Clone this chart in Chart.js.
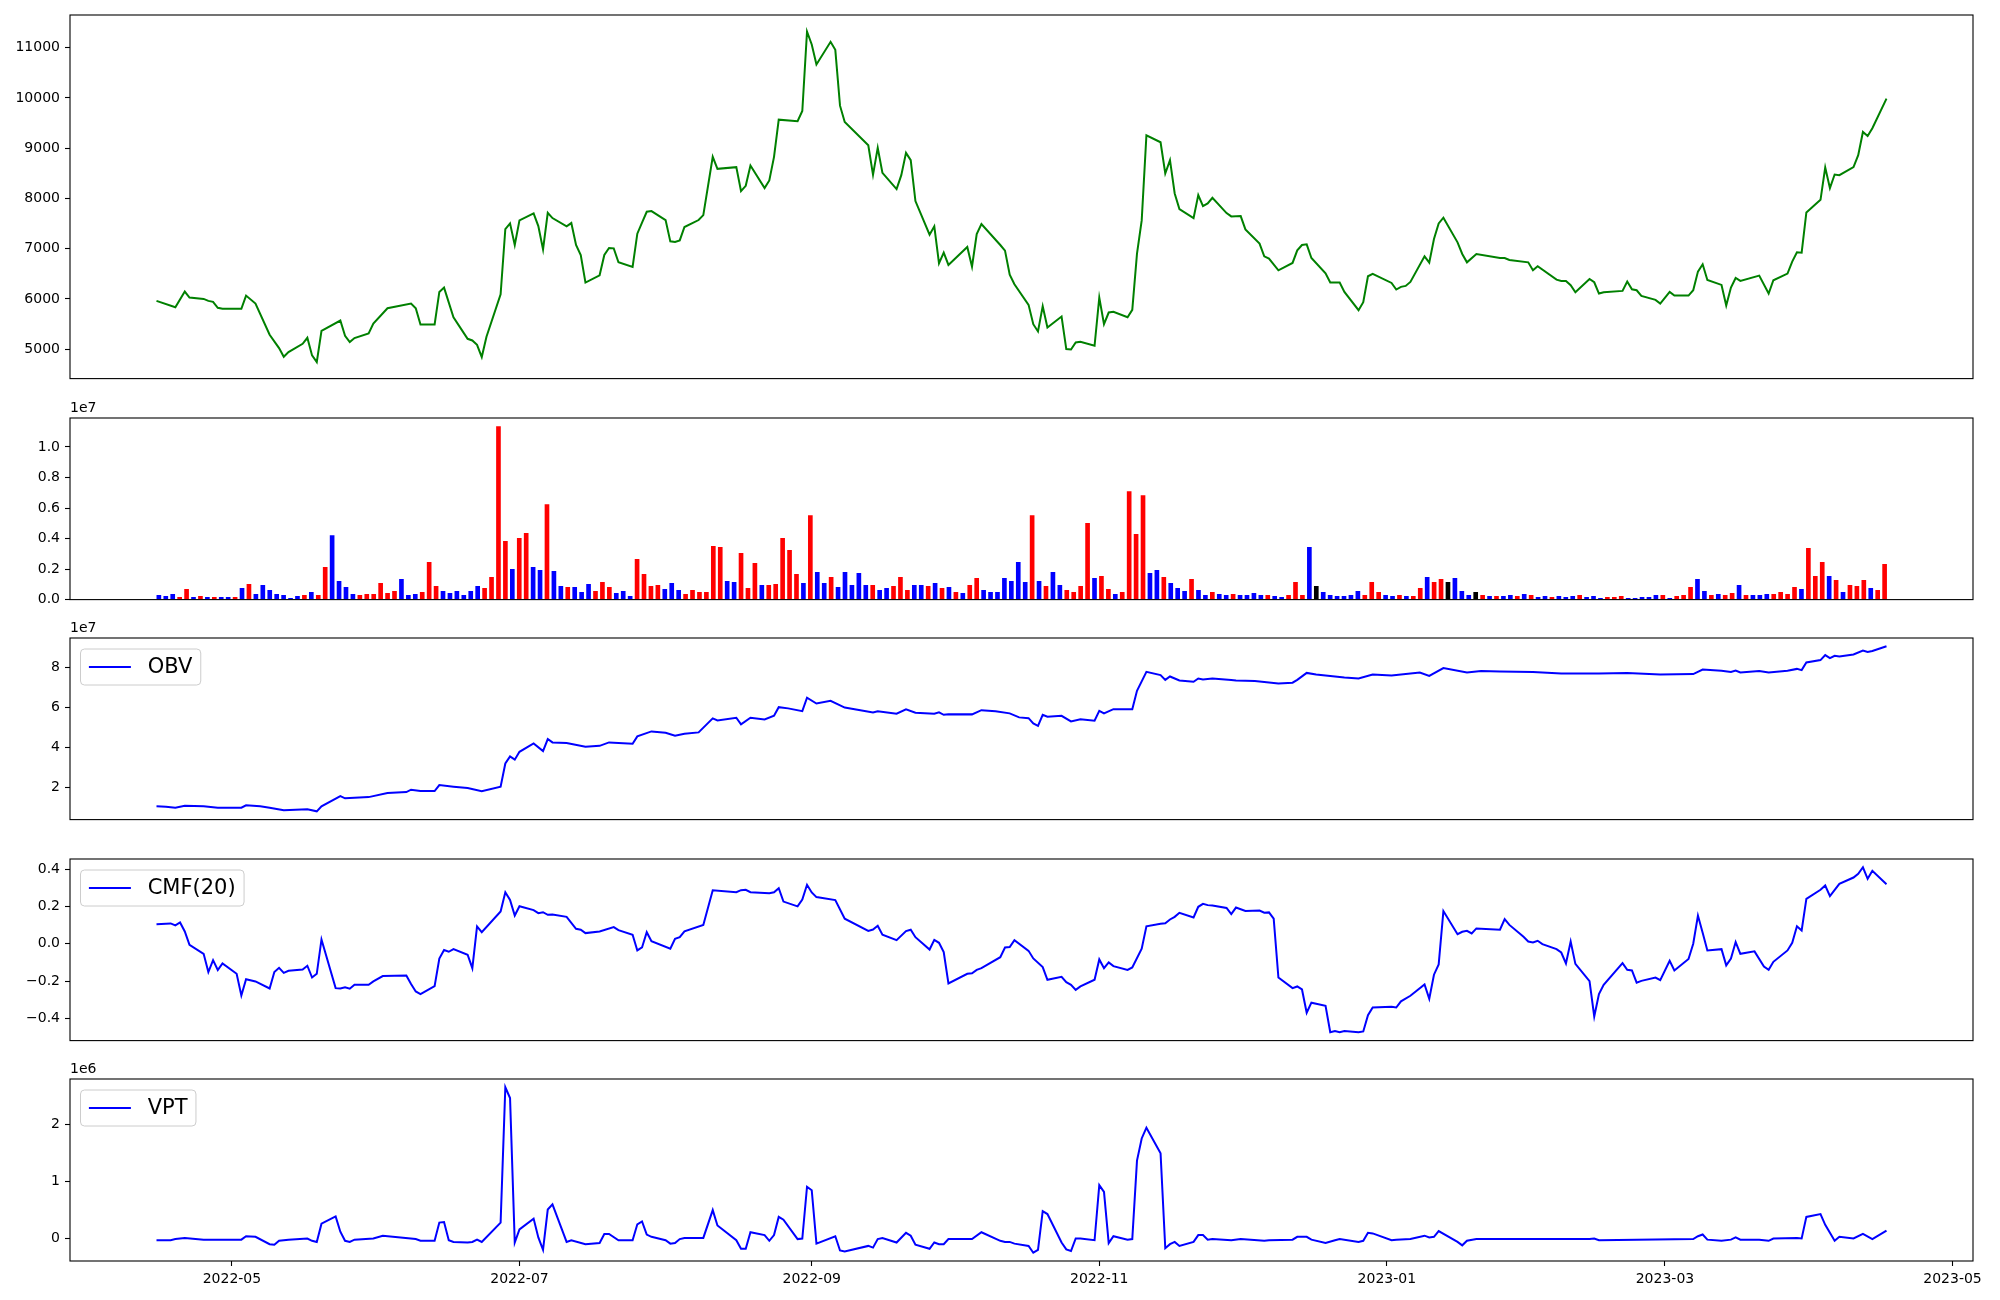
<!DOCTYPE html>
<html>
<head>
<meta charset="utf-8">
<script src="https://cdn.jsdelivr.net/npm/chart.js@4.4.1/dist/chart.umd.min.js"></script>
<style>
  html, body { margin: 0; padding: 0; background: #fff; overflow: hidden; }
  #fig { position: relative; width: 2000px; height: 1300px; }
  #fig canvas { position: absolute; left: 0; }
</style>
</head>
<body>
<div id="fig">
  <canvas id="cPrice"></canvas>
  <canvas id="cVol"></canvas>
  <canvas id="cObv"></canvas>
  <canvas id="cCmf"></canvas>
  <canvas id="cVpt"></canvas>
</div>
<script>
// x of every line point = days counted from 2022-04-15
const priceClose = [[0,5962],[4,5836],[6,6147],[7,6028],[10,6001],[11,5962],[12,5942],[13,5823],[14,5803],[18,5803],[19,6067],[21,5909],[24,5287],[26,5022],[27,4850],[28,4943],[31,5108],[32,5227],[33,4876],[34,4744],[35,5366],[39,5571],[40,5267],[41,5141],[42,5221],[45,5313],[46,5512],[49,5816],[54,5909],[55,5816],[56,5492],[59,5492],[60,6140],[61,6226],[63,5637],[66,5207],[67,5174],[68,5088],[69,4843],[70,5247],[73,6094],[74,7391],[75,7503],[76,7073],[77,7563],[80,7702],[81,7450],[82,6987],[83,7715],[84,7609],[87,7444],[88,7510],[89,7073],[90,6875],[91,6326],[94,6471],[95,6875],[96,7014],[97,7007],[98,6729],[101,6637],[102,7298],[103,7517],[104,7735],[105,7748],[108,7570],[109,7146],[110,7133],[111,7166],[112,7431],[115,7570],[116,7669],[118,8827],[119,8589],[123,8622],[124,8145],[125,8251],[126,8655],[129,8205],[130,8357],[131,8827],[132,9568],[136,9535],[137,9740],[138,11321],[139,11063],[140,10666],[143,11116],[144,10957],[145,9846],[146,9522],[151,9058],[152,8470],[153,9005],[154,8509],[157,8185],[158,8463],[159,8906],[160,8761],[161,7947],[164,7278],[165,7444],[166,6709],[167,6921],[168,6676],[172,7034],[173,6643],[174,7292],[175,7490],[179,7073],[180,6961],[181,6484],[182,6292],[185,5882],[186,5498],[187,5353],[188,5856],[189,5432],[192,5651],[193,5002],[194,4995],[195,5134],[196,5148],[199,5068],[200,6028],[201,5498],[202,5730],[203,5743],[206,5637],[207,5783],[208,6901],[209,7563],[210,9257],[213,9118],[214,8496],[215,8761],[216,8099],[217,7788],[220,7609],[221,8066],[222,7847],[223,7900],[224,8013],[227,7708],[228,7642],[230,7649],[231,7384],[234,7100],[235,6848],[236,6802],[238,6570],[241,6716],[242,6967],[243,7073],[244,7086],[245,6815],[248,6511],[249,6326],[251,6326],[252,6140],[255,5777],[256,5935],[257,6451],[258,6498],[262,6319],[263,6187],[264,6240],[265,6259],[266,6339],[269,6848],[270,6723],[271,7192],[272,7503],[273,7616],[276,7126],[277,6895],[278,6729],[280,6895],[285,6815],[286,6815],[287,6775],[291,6729],[292,6570],[293,6650],[297,6385],[298,6359],[299,6359],[300,6273],[301,6134],[304,6398],[305,6332],[306,6107],[307,6134],[311,6160],[312,6346],[313,6193],[314,6173],[315,6061],[318,5981],[319,5909],[321,6140],[322,6067],[325,6067],[326,6173],[327,6544],[328,6689],[329,6378],[332,6279],[333,5869],[334,6226],[335,6418],[336,6359],[340,6464],[342,6107],[343,6372],[346,6504],[347,6742],[348,6928],[349,6921],[350,7722],[353,7973],[354,8615],[355,8205],[356,8476],[357,8463],[360,8622],[361,8860],[362,9323],[363,9244],[364,9396],[367,9985]];

// volume bars, in millions, evenly spaced between these two days
const volFirstDay = 0.5, volLastDay = 366.6;
const volumeM = [0.28,0.22,0.35,0.15,0.68,0.15,0.22,0.15,0.15,0.15, 0.15,0.15,0.74,1.0,0.35,0.94,0.61,0.35,0.28,0.09,
 0.22,0.28,0.48,0.28,2.11,4.2,1.2,0.81,0.35,0.28, 0.35,0.35,1.07,0.41,0.54,1.33,0.28,0.35,0.48,2.44,
 0.87,0.54,0.41,0.54,0.28,0.54,0.87,0.74,1.46,11.33, 3.81,1.98,4.01,4.34,2.11,1.92,6.23,1.85,0.87,0.81,
 0.81,0.48,1.0,0.54,1.13,0.81,0.41,0.54,0.22,2.64, 1.66,0.87,0.94,0.68,1.07,0.61,0.35,0.61,0.48,0.48,
 3.49,3.42,1.2,1.13,3.03,0.74,2.37,0.94,0.94,1.0, 4.01,3.22,1.66,1.07,5.51,1.79,1.07,1.46,0.81,1.79,
 0.94,1.72,0.94,0.94,0.61,0.74,0.87,1.46,0.61,0.94, 0.94,0.87,1.07,0.74,0.81,0.48,0.41,0.94,1.39,0.61,
 0.48,0.48,1.39,1.2,2.44,1.13,5.51,1.2,0.87,1.79, 0.94,0.61,0.48,0.87,4.99,1.39,1.53,0.68,0.35,0.48,
 7.08,4.27,6.82,1.72,1.92,1.46,1.07,0.74,0.54,1.33, 0.61,0.28,0.48,0.35,0.28,0.35,0.28,0.28,0.41,0.28,
 0.28,0.22,0.15,0.28,1.13,0.28,3.42,0.87,0.48,0.28, 0.22,0.22,0.28,0.54,0.28,1.13,0.48,0.28,0.22,0.28,
 0.22,0.22,0.74,1.46,1.13,1.33,1.13,1.39,0.54,0.28, 0.48,0.28,0.22,0.22,0.22,0.28,0.22,0.35,0.28,0.15,
 0.22,0.15,0.22,0.15,0.22,0.28,0.15,0.22,0.09,0.15, 0.15,0.22,0.09,0.09,0.15,0.15,0.28,0.28,0.09,0.22,
 0.28,0.81,1.33,0.54,0.28,0.35,0.28,0.41,0.94,0.28, 0.28,0.28,0.35,0.35,0.48,0.35,0.81,0.68,3.36,1.53,
 2.44,1.53,1.26,0.48,0.94,0.87,1.26,0.74,0.61,2.31];
// r = up day, b = down day, k = unchanged
const volumeDir = 'bbbrrbrbrb' + 'brbrbbbbbb' + 'brbrrbbbbr' + 'rrrrrbbbrr' + 'rbbbbbbrrr' +
  'rbrrbbrbbr' + 'bbbrrrbbbr' + 'rrrbbbrrrr' + 'rrbbrrrbrr' + 'rrrbrbbrbb' +
  'bbbrbbrrrb' + 'brbrbrbrrb' + 'bbbbbbrbrb' + 'brrrrbrrbr' + 'rrrbbrbbbr' +
  'bbrbbrbbbb' + 'rbbrrrbkbb' + 'bbbbrrrbbr' + 'brrbrrkbbb' + 'krbrbbrbrb' +
  'brbbbrbbbr' + 'rrbbbbbrbr' + 'rrbbrbrrbr' + 'bbbrrrrbrr' + 'rbrbrrrbrr';

// OBV in units of 1e7
const obv = [[0,1.07],[2,1.05],[4,1.00],[6,1.10],[10,1.07],[13,1.00],[18,1.00],[19,1.12],[22,1.07],[24,1.00],[27,0.87],[32,0.92],[34,0.82],[35,1.07],[39,1.58],[40,1.47],[45,1.53],[49,1.73],[53,1.78],[54,1.90],[56,1.83],[59,1.83],[60,2.13],[63,2.05],[66,1.98],[69,1.83],[73,2.05],[74,3.21],[75,3.56],[76,3.40],[77,3.79],[80,4.21],[82,3.83],[83,4.43],[84,4.26],[87,4.23],[91,4.04],[94,4.09],[96,4.26],[101,4.19],[102,4.56],[105,4.81],[108,4.74],[110,4.59],[112,4.69],[115,4.76],[118,5.46],[119,5.36],[123,5.49],[124,5.16],[126,5.49],[129,5.41],[131,5.59],[132,6.02],[134,5.96],[137,5.82],[138,6.49],[140,6.20],[143,6.34],[146,6.00],[152,5.76],[153,5.82],[157,5.69],[159,5.91],[161,5.74],[165,5.69],[166,5.76],[167,5.64],[168,5.67],[173,5.66],[175,5.87],[178,5.82],[181,5.71],[183,5.51],[185,5.47],[186,5.21],[187,5.09],[188,5.64],[189,5.54],[192,5.59],[194,5.31],[196,5.42],[199,5.34],[200,5.84],[201,5.71],[203,5.92],[207,5.92],[208,6.84],[210,7.78],[213,7.62],[214,7.38],[215,7.55],[217,7.35],[220,7.29],[221,7.45],[222,7.40],[224,7.45],[228,7.38],[229,7.35],[233,7.32],[238,7.20],[241,7.24],[242,7.38],[244,7.73],[246,7.65],[252,7.50],[255,7.45],[258,7.65],[262,7.60],[268,7.75],[270,7.58],[273,7.97],[278,7.75],[281,7.82],[285,7.80],[292,7.77],[298,7.70],[306,7.70],[312,7.72],[319,7.65],[326,7.67],[328,7.90],[332,7.84],[334,7.78],[335,7.85],[336,7.75],[340,7.82],[342,7.75],[346,7.84],[348,7.93],[349,7.87],[350,8.25],[353,8.37],[354,8.62],[355,8.47],[356,8.58],[357,8.55],[360,8.65],[362,8.85],[363,8.78],[364,8.82],[367,9.06]];

const cmf20 = [[0,0.105],[3,0.109],[4,0.098],[5,0.114],[6,0.066],[7,-0.006],[10,-0.054],[11,-0.152],[12,-0.088],[13,-0.141],[14,-0.106],[17,-0.161],[18,-0.277],[19,-0.190],[21,-0.202],[24,-0.240],[25,-0.152],[26,-0.129],[27,-0.156],[28,-0.145],[31,-0.138],[32,-0.118],[33,-0.181],[34,-0.161],[35,0.023],[38,-0.238],[39,-0.240],[40,-0.233],[41,-0.241],[42,-0.220],[45,-0.220],[46,-0.202],[48,-0.173],[53,-0.170],[54,-0.216],[55,-0.256],[56,-0.270],[59,-0.227],[60,-0.079],[61,-0.034],[62,-0.043],[63,-0.029],[66,-0.059],[67,-0.131],[68,0.093],[69,0.062],[73,0.173],[74,0.276],[75,0.235],[76,0.151],[77,0.201],[80,0.180],[81,0.164],[82,0.169],[83,0.155],[84,0.157],[87,0.144],[89,0.080],[90,0.075],[91,0.057],[94,0.066],[97,0.089],[98,0.073],[101,0.048],[102,-0.036],[103,-0.020],[104,0.062],[105,0.014],[109,-0.027],[110,0.026],[111,0.035],[112,0.066],[116,0.101],[118,0.287],[123,0.276],[124,0.287],[125,0.289],[126,0.276],[130,0.271],[131,0.276],[132,0.298],[133,0.226],[136,0.200],[137,0.237],[138,0.316],[139,0.275],[140,0.250],[144,0.234],[146,0.134],[151,0.069],[152,0.076],[153,0.096],[154,0.048],[157,0.019],[159,0.068],[160,0.075],[161,0.035],[164,-0.031],[165,0.021],[166,0.005],[167,-0.045],[168,-0.213],[172,-0.161],[173,-0.158],[174,-0.140],[175,-0.131],[179,-0.072],[180,-0.020],[181,-0.018],[182,0.019],[185,-0.038],[186,-0.079],[188,-0.125],[189,-0.193],[192,-0.177],[193,-0.206],[194,-0.220],[195,-0.247],[196,-0.229],[199,-0.193],[200,-0.084],[201,-0.131],[202,-0.100],[203,-0.120],[206,-0.140],[207,-0.127],[209,-0.027],[210,0.093],[213,0.107],[214,0.110],[215,0.130],[216,0.144],[217,0.166],[220,0.141],[221,0.198],[222,0.214],[223,0.207],[224,0.205],[227,0.192],[228,0.159],[229,0.194],[231,0.176],[234,0.178],[235,0.166],[236,0.168],[237,0.134],[238,-0.181],[241,-0.238],[242,-0.229],[243,-0.245],[244,-0.370],[245,-0.316],[248,-0.333],[249,-0.474],[250,-0.468],[251,-0.474],[252,-0.468],[255,-0.475],[256,-0.470],[257,-0.383],[258,-0.342],[262,-0.338],[263,-0.342],[264,-0.309],[266,-0.279],[269,-0.218],[270,-0.295],[271,-0.166],[272,-0.111],[273,0.175],[276,0.051],[277,0.064],[278,0.069],[279,0.055],[280,0.082],[285,0.075],[286,0.132],[287,0.101],[290,0.037],[291,0.012],[292,0.007],[293,0.016],[294,-0.002],[297,-0.029],[298,-0.047],[299,-0.106],[300,0.012],[301,-0.108],[304,-0.200],[305,-0.390],[306,-0.270],[307,-0.220],[311,-0.104],[312,-0.140],[313,-0.143],[314,-0.209],[315,-0.199],[318,-0.181],[319,-0.195],[321,-0.091],[322,-0.143],[325,-0.082],[326,0.000],[327,0.151],[328,0.059],[329,-0.036],[332,-0.029],[333,-0.116],[334,-0.079],[335,0.009],[336,-0.054],[339,-0.041],[341,-0.122],[342,-0.140],[343,-0.097],[346,-0.036],[347,0.005],[348,0.094],[349,0.071],[350,0.241],[353,0.289],[354,0.312],[355,0.255],[357,0.321],[360,0.355],[361,0.375],[362,0.410],[363,0.348],[364,0.391],[367,0.319]];

// VPT in units of 1e6
const vpt = [[0,-0.03],[3,-0.03],[4,-0.01],[6,0.01],[10,-0.02],[18,-0.02],[19,0.04],[21,0.03],[24,-0.10],[25,-0.11],[26,-0.04],[28,-0.02],[32,0.00],[33,-0.04],[34,-0.06],[35,0.26],[38,0.39],[39,0.12],[40,-0.04],[41,-0.06],[42,-0.02],[46,0.00],[48,0.05],[55,-0.01],[56,-0.04],[59,-0.04],[60,0.28],[61,0.29],[62,-0.03],[63,-0.06],[66,-0.07],[67,-0.06],[68,-0.02],[69,-0.06],[73,0.28],[74,2.66],[75,2.47],[76,-0.07],[77,0.16],[80,0.35],[81,0.02],[82,-0.20],[83,0.51],[84,0.60],[87,-0.06],[88,-0.03],[91,-0.10],[94,-0.08],[95,0.08],[96,0.08],[98,-0.03],[101,-0.03],[102,0.25],[103,0.30],[104,0.07],[105,0.03],[108,-0.03],[109,-0.09],[110,-0.08],[111,-0.01],[112,0.01],[116,0.01],[118,0.50],[119,0.23],[123,-0.03],[124,-0.18],[125,-0.18],[126,0.11],[129,0.06],[130,-0.04],[131,0.06],[132,0.38],[133,0.33],[136,-0.01],[137,0.00],[138,0.91],[139,0.85],[140,-0.09],[144,0.04],[145,-0.21],[146,-0.23],[151,-0.13],[152,-0.16],[153,-0.01],[154,0.01],[157,-0.07],[159,0.10],[160,0.05],[161,-0.11],[164,-0.18],[165,-0.07],[166,-0.10],[167,-0.10],[168,-0.01],[173,-0.01],[175,0.11],[179,-0.04],[180,-0.06],[181,-0.06],[182,-0.09],[185,-0.13],[186,-0.25],[187,-0.20],[188,0.48],[189,0.43],[192,-0.07],[193,-0.19],[194,-0.22],[195,0.00],[196,0.00],[199,-0.03],[200,0.94],[201,0.82],[202,-0.08],[203,0.04],[206,-0.02],[207,-0.01],[208,1.37],[209,1.76],[210,1.95],[213,1.50],[214,-0.17],[215,-0.10],[216,-0.06],[217,-0.13],[220,-0.06],[221,0.06],[222,0.06],[223,-0.02],[224,-0.01],[228,-0.03],[230,-0.01],[235,-0.04],[236,-0.03],[241,-0.02],[242,0.03],[244,0.03],[245,-0.02],[248,-0.08],[250,-0.03],[251,-0.01],[255,-0.06],[256,-0.04],[257,0.10],[258,0.09],[262,-0.03],[263,-0.02],[266,-0.01],[269,0.05],[270,0.02],[271,0.03],[272,0.13],[276,-0.06],[277,-0.12],[278,-0.04],[280,-0.01],[304,-0.01],[305,0.00],[306,-0.03],[326,-0.01],[327,0.04],[328,0.07],[329,-0.02],[332,-0.04],[334,-0.02],[335,0.02],[336,-0.02],[340,-0.02],[342,-0.04],[343,0.00],[348,0.01],[349,0.00],[350,0.38],[353,0.43],[354,0.24],[355,0.10],[356,-0.04],[357,0.03],[360,0.00],[362,0.08],[364,-0.01],[367,0.14]];

// month ticks (days from 2022-04-15)
const monthTickDays = [16, 77, 139, 200, 261, 320, 381];
const monthTickLabels = ['2022-05', '2022-07', '2022-09', '2022-11', '2023-01', '2023-03', '2023-05'];

const priceTicks = [5000, 6000, 7000, 8000, 9000, 10000, 11000];
const volTicks = [0, 2, 4, 6, 8, 10];
const obvTicks = [2, 4, 6, 8];
const cmfTicks = [-0.4, -0.2, 0, 0.2, 0.4];
const vptTicks = [0, 1, 2];

Chart.defaults.font.family = '"DejaVu Sans", sans-serif';
Chart.defaults.font.size = 14;
Chart.defaults.color = '#000';

const dirColor = { r: '#ff0000', b: '#0000ff', k: '#000000' };

// matplotlib-like 5% margins
function padRange(vals) {
  const lo = Math.min(...vals), hi = Math.max(...vals);
  const m = (hi - lo) * 0.05;
  return [lo - m, hi + m];
}
const xRange = padRange([0, 367]);
const toXY = arr => arr.map(p => ({ x: p[0], y: p[1] }));
const minus = s => s.replace('-', '\u2212');

const framePlugin = {
  id: 'frame',
  afterDraw(chart, args, o) {
    const { ctx, chartArea: a } = chart;
    ctx.save();
    ctx.strokeStyle = '#000';
    ctx.lineWidth = 1.1;
    ctx.strokeRect(a.left, a.top, a.right - a.left, a.bottom - a.top);
    if (o.offsetText) {
      ctx.font = '14px "DejaVu Sans"';
      ctx.fillStyle = '#000';
      ctx.textAlign = 'left';
      ctx.textBaseline = 'bottom';
      ctx.fillText(o.offsetText, a.left, a.top - 3);
    }
    if (o.legend) {
      const fs = 21;
      ctx.font = fs + 'px "DejaVu Sans"';
      const tw = ctx.measureText(o.legend).width;
      const bx = a.left + 10.5, by = a.top + 11;
      const bw = 3.6 * fs + tw, bh = 36, r = 4;
      ctx.beginPath();
      ctx.moveTo(bx + r, by);
      ctx.lineTo(bx + bw - r, by);
      ctx.arcTo(bx + bw, by, bx + bw, by + r, r);
      ctx.lineTo(bx + bw, by + bh - r);
      ctx.arcTo(bx + bw, by + bh, bx + bw - r, by + bh, r);
      ctx.lineTo(bx + r, by + bh);
      ctx.arcTo(bx, by + bh, bx, by + bh - r, r);
      ctx.lineTo(bx, by + r);
      ctx.arcTo(bx, by, bx + r, by, r);
      ctx.closePath();
      ctx.fillStyle = 'rgba(255,255,255,0.8)';
      ctx.fill();
      ctx.strokeStyle = '#cccccc';
      ctx.lineWidth = 1;
      ctx.stroke();
      const cy = by + bh / 2;
      ctx.beginPath();
      ctx.moveTo(bx + 0.4 * fs, cy);
      ctx.lineTo(bx + 2.4 * fs, cy);
      ctx.strokeStyle = '#0000ff';
      ctx.lineWidth = 2;
      ctx.stroke();
      ctx.fillStyle = '#000';
      ctx.textAlign = 'left';
      ctx.textBaseline = 'middle';
      ctx.fillText(o.legend, bx + 3.2 * fs, cy + 1);
    }
    ctx.restore();
  }
};

function yScale(range, ticks, fmt) {
  return {
    type: 'linear',
    min: range[0], max: range[1],
    afterFit: s => { s.width = 70; },
    afterBuildTicks: s => { s.ticks = ticks.map(v => ({ value: v })); },
    grid: { drawOnChartArea: false, drawTicks: true, tickLength: 5, tickColor: '#000', tickWidth: 1.1 },
    border: { display: false },
    ticks: { padding: 5, callback: fmt }
  };
}

function xScale(showLabels) {
  return {
    type: 'linear',
    display: showLabels,
    offset: false,
    min: xRange[0], max: xRange[1],
    afterFit: s => { s.height = showLabels ? 39 : 0; },
    afterBuildTicks: s => { s.ticks = monthTickDays.map(v => ({ value: v })); },
    grid: { drawOnChartArea: false, drawTicks: true, tickLength: 5, tickColor: '#000', tickWidth: 1.1 },
    border: { display: false },
    ticks: { padding: 5, maxRotation: 0, autoSkip: false,
      callback: v => monthTickLabels[monthTickDays.indexOf(v)] }
  };
}

// top/h = wanted plot-area box in page pixels; canvas is resized until Chart.js puts it there
function panel(id, top, h, last, type, datasets, y, frameOpts) {
  const cv = document.getElementById(id);
  const padTop = 30, padBottom = last ? 0 : 8;
  let ch = padTop + h + (last ? 39 : padBottom);
  cv.width = 2000; cv.height = ch;
  cv.style.width = '2000px'; cv.style.height = ch + 'px';
  const chart = new Chart(cv, {
    type: type,
    data: { datasets: datasets },
    plugins: [framePlugin],
    options: {
      responsive: false,
      maintainAspectRatio: false,
      animation: false,
      devicePixelRatio: 1,
      layout: { padding: { left: 0, right: 27, top: padTop, bottom: padBottom } },
      plugins: { legend: { display: false }, tooltip: { enabled: false }, frame: frameOpts },
      scales: { x: xScale(last), y: y }
    }
  });
  const a = chart.chartArea;
  const grow = Math.round(h - (a.bottom - a.top));
  if (grow !== 0) {
    ch += grow;
    cv.style.height = ch + 'px';
    chart.resize(2000, ch);
  }
  cv.style.top = (top - chart.chartArea.top) + 'px';
  return chart;
}

const lineStyle = color => ({ borderColor: color, borderWidth: 2, pointRadius: 0, tension: 0, fill: false });

// 1. price
panel('cPrice', 15, 364, false, 'line',
  [Object.assign({ data: toXY(priceClose), parsing: false }, lineStyle('#008000'))],
  yScale(padRange(priceClose.map(p => p[1])), priceTicks, v => String(v)), {});

// 2. volume
const volStep = (volLastDay - volFirstDay) / (volumeM.length - 1);
const volData = volumeM.map((v, i) => ({ x: volFirstDay + i * volStep, y: v }));
panel('cVol', 418, 182, false, 'bar',
  [{ data: volData, backgroundColor: volumeM.map((v, i) => dirColor[volumeDir[i]]),
     barThickness: 4, borderWidth: 0 }],
  yScale([0, Math.max(...volumeM) * 1.05], volTicks, v => (v / 10).toFixed(1)),
  { offsetText: '1e7' });

// 3. OBV
panel('cObv', 638, 182, false, 'line',
  [Object.assign({ data: toXY(obv), parsing: false }, lineStyle('#0000ff'))],
  yScale(padRange(obv.map(p => p[1])), obvTicks, v => String(v)),
  { offsetText: '1e7', legend: 'OBV' });

// 4. CMF(20)
panel('cCmf', 859, 182, false, 'line',
  [Object.assign({ data: toXY(cmf20), parsing: false }, lineStyle('#0000ff'))],
  yScale(padRange(cmf20.map(p => p[1])), cmfTicks, v => minus(v.toFixed(1))),
  { legend: 'CMF(20)' });

// 5. VPT
panel('cVpt', 1079, 182, true, 'line',
  [Object.assign({ data: toXY(vpt), parsing: false }, lineStyle('#0000ff'))],
  yScale(padRange(vpt.map(p => p[1])), vptTicks, v => String(v)),
  { offsetText: '1e6', legend: 'VPT' });
</script>
</body>
</html>
